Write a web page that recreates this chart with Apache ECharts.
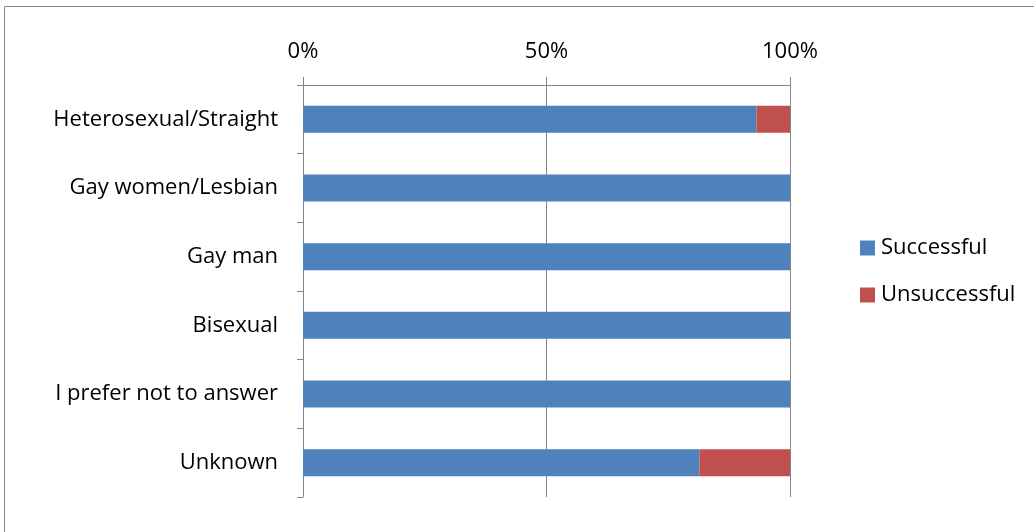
<!DOCTYPE html>
<html>
<head>
<meta charset="utf-8">
<script src="https://cdn.jsdelivr.net/npm/echarts@6/dist/echarts.min.js"></script>
<style>
html,body{margin:0;padding:0;background:#fff;}
#chart{width:1034px;height:532px;}
</style>
</head>
<body>
<div id="chart"></div>
<script>
const categories = ["Heterosexual/Straight", "Gay women/Lesbian", "Gay man", "Bisexual", "I prefer not to answer", "Unknown"];
const successful = [93.1, 100, 100, 100, 100, 81.4];
const unsuccessful = [6.9, 0, 0, 0, 0, 18.6];
const xTicks = [0, 50, 100];

const chart = echarts.init(document.getElementById('chart'));
const font = '"Open Sans", "DejaVu Sans", sans-serif';
chart.setOption({
  animation: false,
  textStyle: {fontFamily: font},
  graphic: [{
    type: 'rect',
    shape: {x: 4.5, y: 6.5, width: 1200, height: 700},
    style: {fill: 'none', stroke: '#868686', lineWidth: 1},
    silent: true
  }],
  grid: {left: 303, right: 244, top: 85, bottom: 35, containLabel: false},
  legend: {
    orient: 'vertical',
    left: 855,
    top: 232,
    itemWidth: 15,
    itemHeight: 15,
    itemGap: 25,
    icon: 'rect',
    textStyle: {fontSize: 22, color: '#000', fontFamily: font, padding: [0, 0, 0, 1]},
    data: ['Successful', 'Unsuccessful']
  },
  xAxis: {
    type: 'value',
    position: 'top',
    min: 0,
    max: 100,
    interval: 50,
    axisLine: {show: true, lineStyle: {color: '#868686'}},
    axisTick: {show: true, length: 8, lineStyle: {color: '#868686'}},
    axisLabel: {formatter: v => xTicks.includes(v) ? v + '%' : '', fontSize: 22, color: '#000', margin: 22, fontFamily: font},
    splitLine: {show: true, lineStyle: {color: '#868686'}}
  },
  yAxis: {
    type: 'category',
    inverse: true,
    data: categories,
    axisLine: {show: true, lineStyle: {color: '#868686'}},
    axisTick: {show: true, length: 6, lineStyle: {color: '#868686'}},
    axisLabel: {fontSize: 22, color: '#000', margin: 25, fontFamily: font}
  },
  series: [
    {name: 'Successful', type: 'bar', stack: 'a', data: successful, barWidth: 27, itemStyle: {color: '#4F81BD'}},
    {name: 'Unsuccessful', type: 'bar', stack: 'a', data: unsuccessful, barWidth: 27, itemStyle: {color: '#C0504D'}}
  ]
});
</script>
</body>
</html>
